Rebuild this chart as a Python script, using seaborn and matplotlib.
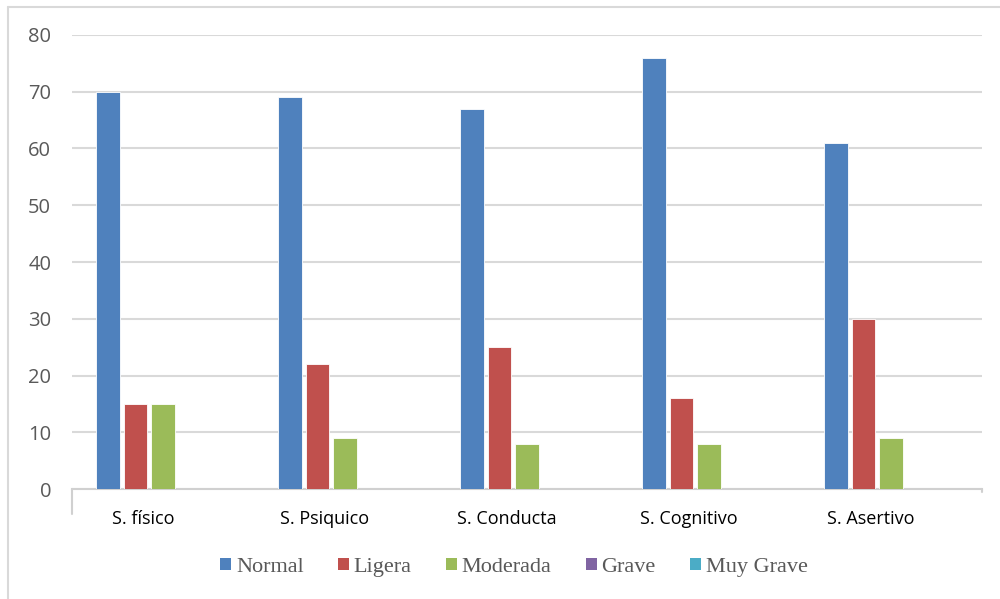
import matplotlib
matplotlib.use("Agg")
import matplotlib.pyplot as plt
import matplotlib.transforms as mtransforms
from matplotlib.lines import Line2D
from matplotlib.patches import Patch
import seaborn as sns
import pandas as pd

# Síndromes evaluados y nivel de severidad
categorias = ["S. físico", "S. Psiquico", "S. Conducta", "S. Cognitivo", "S. Asertivo"]
niveles = ["Normal", "Ligera", "Moderada", "Grave", "Muy Grave"]
normal = [70, 69, 67, 76, 61]
ligera = [15, 22, 25, 16, 30]
moderada = [15, 9, 8, 8, 9]
grave = [0, 0, 0, 0, 0]
muy_grave = [0, 0, 0, 0, 0]
yticks = [0, 10, 20, 30, 40, 50, 60, 70, 80]

colores = ["#4F81BD", "#C0504D", "#9BBB59", "#8064A2", "#4BACC6"]

series = [normal, ligera, moderada, grave, muy_grave]
filas = []
for nivel, valores in zip(niveles, series):
    for cat, v in zip(categorias, valores):
        filas.append({"Síndrome": cat, "Nivel": nivel, "Valor": v})
df = pd.DataFrame(filas)

sns.set_style("white")
plt.rcParams["font.family"] = ["Open Sans", "DejaVu Sans"]

fig = plt.figure(figsize=(10, 5.99), dpi=100)
ax = fig.add_axes([0.072, 0.1836, 0.910, 0.758])

sns.barplot(data=df, x="Síndrome", y="Valor", hue="Nivel", order=categorias,
            hue_order=niveles, palette=colores, width=0.755, gap=0.16,
            saturation=1, legend=False, ax=ax, zorder=3)
for p in ax.patches:
    p.set_edgecolor("white")
    p.set_linewidth(0.6)

ax.set_ylim(0, 80)
ax.set_xlim(-0.5, len(categorias) - 0.5)
ax.set_yticks(yticks)
ax.set_yticklabels([str(t) for t in yticks], fontsize=14.5, color="#595959")
ax.yaxis.grid(True, color="#d9d9d9", linewidth=1.5, zorder=0)
ax.set_axisbelow(True)
ax.set_xlabel("")
ax.set_ylabel("")
for s in ["top", "right", "left"]:
    ax.spines[s].set_visible(False)
ax.spines["bottom"].set_color("#d0d0d0")
ax.spines["bottom"].set_linewidth(1.5)
ax.tick_params(axis="y", length=0, pad=15)
ax.tick_params(axis="x", length=0, pad=15)
ax.set_xticks(range(len(categorias)))
ax.set_xticklabels(categorias, fontsize=13, color="#000000", fontweight="medium")
shift = mtransforms.ScaledTranslation(-20 / 100, 0, fig.dpi_scale_trans)
for lbl in ax.get_xticklabels():
    lbl.set_transform(lbl.get_transform() + shift)

# Marco del eje de categorías
ax.add_line(Line2D([0, 0], [0, -0.055], transform=ax.transAxes, color="#d0d0d0",
                   linewidth=1.5, clip_on=False))
ax.add_line(Line2D([1, 1], [0, -0.006], transform=ax.transAxes, color="#d0d0d0",
                   linewidth=1.5, clip_on=False))

# Borde del gráfico
fig.add_artist(Line2D([0.008, 0.008], [0, 0.988], transform=fig.transFigure,
                      color="#d9d9d9", linewidth=1.5))
fig.add_artist(Line2D([0.008, 1], [0.988, 0.988], transform=fig.transFigure,
                      color="#d9d9d9", linewidth=1.5))

handles = [Patch(facecolor=c, edgecolor="none") for c in colores]
leg = fig.legend(handles, niveles, loc="center", bbox_to_anchor=(0.514, 0.053),
                 ncol=5, frameon=False, handlelength=0.5, handleheight=0.5,
                 handletextpad=0.2, columnspacing=1.55,
                 prop={"family": "Liberation Serif", "size": 16})
for t in leg.get_texts():
    t.set_color("#595959")

fig.savefig("out.png", dpi=100)
